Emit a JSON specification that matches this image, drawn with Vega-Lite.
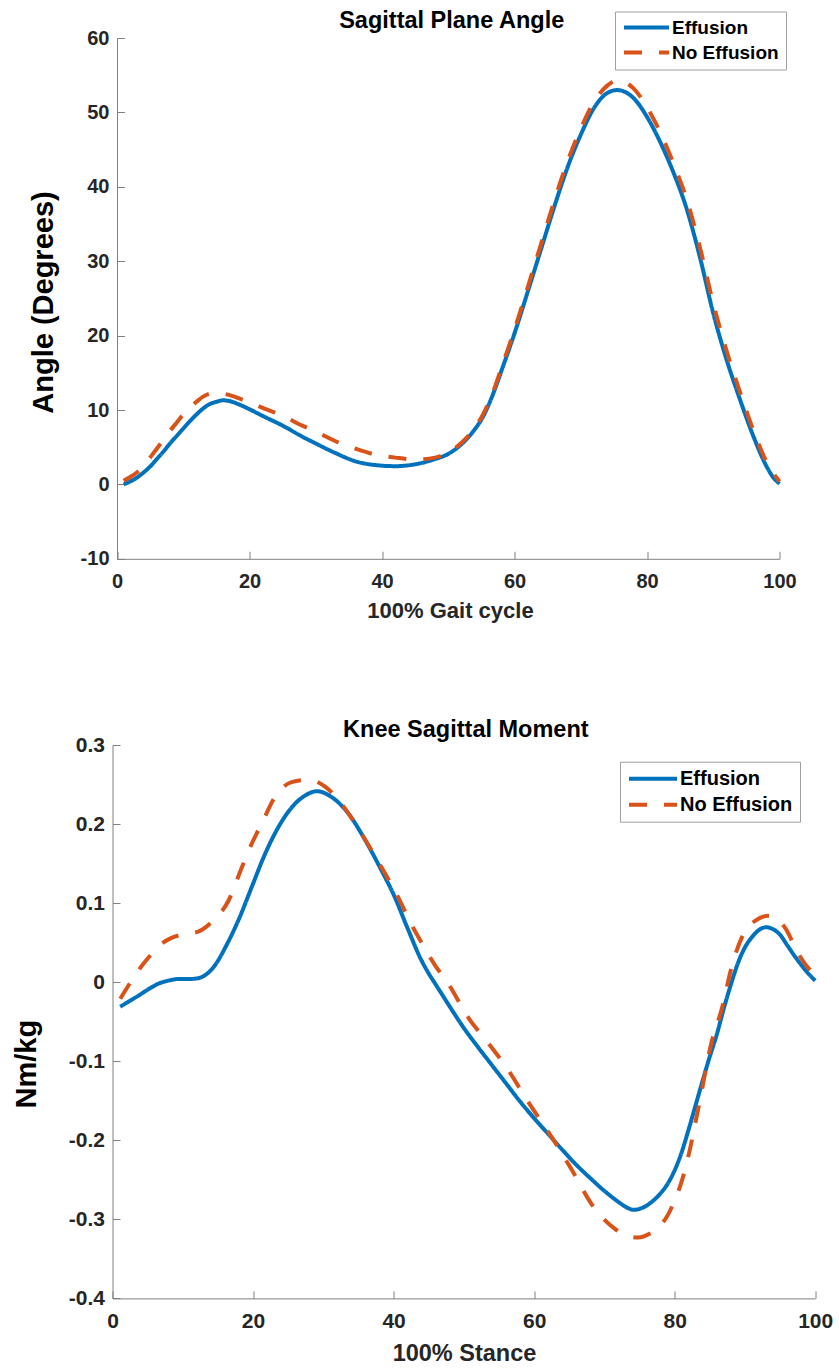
{
  "$schema": "https://vega.github.io/schema/vega-lite/v6.json",
  "background": "white",
  "padding": {"left": 11.5, "top": 9, "right": 5, "bottom": 2},
  "spacing": 95,
  "config": {
    "font": "Liberation Sans",
    "view": {"stroke": null},
    "axis": {
      "grid": false,
      "domainColor": "#808080",
      "tickColor": "#808080",
      "domainWidth": 1,
      "tickWidth": 1,
      "tickSize": -7.5,
      "labelFont": "Liberation Sans",
      "labelFontWeight": "bold",
      "labelColor": "#262626",
      "titleFont": "Liberation Sans",
      "titleFontWeight": "bold",
      "titleColor": "#262626",
      "labelFlush": false,
      "labelOverlap": false
    },
    "legend": {
      "labelFont": "Liberation Sans",
      "labelFontWeight": "bold",
      "labelColor": "black",
      "strokeColor": "#a0a0a0",
      "fillColor": "white",
      "symbolType": "stroke"
    }
  },
  "datasets": {
    "angle": [
      {"x": 1, "value": 0.0, "group": "Effusion"},
      {"x": 2, "value": 0.4, "group": "Effusion"},
      {"x": 3, "value": 0.9, "group": "Effusion"},
      {"x": 4, "value": 1.6, "group": "Effusion"},
      {"x": 5, "value": 2.4, "group": "Effusion"},
      {"x": 6, "value": 3.4, "group": "Effusion"},
      {"x": 7, "value": 4.4, "group": "Effusion"},
      {"x": 8, "value": 5.5, "group": "Effusion"},
      {"x": 9, "value": 6.5, "group": "Effusion"},
      {"x": 10, "value": 7.5, "group": "Effusion"},
      {"x": 11, "value": 8.5, "group": "Effusion"},
      {"x": 12, "value": 9.4, "group": "Effusion"},
      {"x": 13, "value": 10.2, "group": "Effusion"},
      {"x": 14, "value": 10.8, "group": "Effusion"},
      {"x": 15, "value": 11.1, "group": "Effusion"},
      {"x": 16, "value": 11.3, "group": "Effusion"},
      {"x": 17, "value": 11.2, "group": "Effusion"},
      {"x": 18, "value": 10.9, "group": "Effusion"},
      {"x": 20, "value": 10.1, "group": "Effusion"},
      {"x": 22, "value": 9.2, "group": "Effusion"},
      {"x": 25, "value": 7.9, "group": "Effusion"},
      {"x": 28, "value": 6.4, "group": "Effusion"},
      {"x": 30, "value": 5.5, "group": "Effusion"},
      {"x": 33, "value": 4.2, "group": "Effusion"},
      {"x": 36, "value": 3.1, "group": "Effusion"},
      {"x": 39, "value": 2.6, "group": "Effusion"},
      {"x": 42, "value": 2.45, "group": "Effusion"},
      {"x": 45, "value": 2.7, "group": "Effusion"},
      {"x": 48, "value": 3.4, "group": "Effusion"},
      {"x": 50, "value": 4.1, "group": "Effusion"},
      {"x": 52, "value": 5.4, "group": "Effusion"},
      {"x": 53, "value": 6.3, "group": "Effusion"},
      {"x": 54, "value": 7.4, "group": "Effusion"},
      {"x": 55, "value": 8.7, "group": "Effusion"},
      {"x": 56, "value": 10.5, "group": "Effusion"},
      {"x": 57, "value": 12.7, "group": "Effusion"},
      {"x": 58, "value": 15.2, "group": "Effusion"},
      {"x": 60, "value": 20.3, "group": "Effusion"},
      {"x": 62, "value": 25.9, "group": "Effusion"},
      {"x": 64, "value": 31.6, "group": "Effusion"},
      {"x": 66, "value": 37.3, "group": "Effusion"},
      {"x": 68, "value": 42.6, "group": "Effusion"},
      {"x": 70, "value": 47.0, "group": "Effusion"},
      {"x": 72, "value": 50.6, "group": "Effusion"},
      {"x": 74, "value": 52.6, "group": "Effusion"},
      {"x": 75.5, "value": 53.0, "group": "Effusion"},
      {"x": 77, "value": 52.6, "group": "Effusion"},
      {"x": 78, "value": 51.9, "group": "Effusion"},
      {"x": 80, "value": 49.4, "group": "Effusion"},
      {"x": 82, "value": 46.0, "group": "Effusion"},
      {"x": 84, "value": 41.9, "group": "Effusion"},
      {"x": 86, "value": 37.0, "group": "Effusion"},
      {"x": 88, "value": 30.5, "group": "Effusion"},
      {"x": 90, "value": 23.0, "group": "Effusion"},
      {"x": 92, "value": 16.8, "group": "Effusion"},
      {"x": 94, "value": 11.5, "group": "Effusion"},
      {"x": 96, "value": 6.6, "group": "Effusion"},
      {"x": 98, "value": 2.5, "group": "Effusion"},
      {"x": 99, "value": 1.0, "group": "Effusion"},
      {"x": 100, "value": 0.1, "group": "Effusion"},
      {"x": 1, "value": 0.5, "group": "No Effusion"},
      {"x": 2, "value": 1.0, "group": "No Effusion"},
      {"x": 3, "value": 1.6, "group": "No Effusion"},
      {"x": 4, "value": 2.5, "group": "No Effusion"},
      {"x": 5, "value": 3.6, "group": "No Effusion"},
      {"x": 6, "value": 4.8, "group": "No Effusion"},
      {"x": 7, "value": 6.0, "group": "No Effusion"},
      {"x": 8, "value": 7.2, "group": "No Effusion"},
      {"x": 9, "value": 8.3, "group": "No Effusion"},
      {"x": 10, "value": 9.4, "group": "No Effusion"},
      {"x": 11, "value": 10.3, "group": "No Effusion"},
      {"x": 12, "value": 11.1, "group": "No Effusion"},
      {"x": 13, "value": 11.8, "group": "No Effusion"},
      {"x": 14, "value": 12.2, "group": "No Effusion"},
      {"x": 15, "value": 12.3, "group": "No Effusion"},
      {"x": 16, "value": 12.2, "group": "No Effusion"},
      {"x": 17, "value": 12.0, "group": "No Effusion"},
      {"x": 18, "value": 11.7, "group": "No Effusion"},
      {"x": 20, "value": 11.0, "group": "No Effusion"},
      {"x": 22, "value": 10.3, "group": "No Effusion"},
      {"x": 25, "value": 9.2, "group": "No Effusion"},
      {"x": 28, "value": 7.9, "group": "No Effusion"},
      {"x": 30, "value": 7.1, "group": "No Effusion"},
      {"x": 33, "value": 5.8, "group": "No Effusion"},
      {"x": 36, "value": 4.8, "group": "No Effusion"},
      {"x": 39, "value": 4.0, "group": "No Effusion"},
      {"x": 42, "value": 3.6, "group": "No Effusion"},
      {"x": 45, "value": 3.35, "group": "No Effusion"},
      {"x": 48, "value": 3.6, "group": "No Effusion"},
      {"x": 50, "value": 4.3, "group": "No Effusion"},
      {"x": 52, "value": 5.6, "group": "No Effusion"},
      {"x": 54, "value": 7.6, "group": "No Effusion"},
      {"x": 55, "value": 9.0, "group": "No Effusion"},
      {"x": 56, "value": 10.8, "group": "No Effusion"},
      {"x": 57, "value": 13.0, "group": "No Effusion"},
      {"x": 58, "value": 15.6, "group": "No Effusion"},
      {"x": 60, "value": 20.8, "group": "No Effusion"},
      {"x": 62, "value": 26.5, "group": "No Effusion"},
      {"x": 64, "value": 32.3, "group": "No Effusion"},
      {"x": 66, "value": 38.1, "group": "No Effusion"},
      {"x": 68, "value": 43.4, "group": "No Effusion"},
      {"x": 70, "value": 47.8, "group": "No Effusion"},
      {"x": 72, "value": 51.4, "group": "No Effusion"},
      {"x": 74, "value": 53.6, "group": "No Effusion"},
      {"x": 75.5, "value": 54.3, "group": "No Effusion"},
      {"x": 77, "value": 53.9, "group": "No Effusion"},
      {"x": 78, "value": 53.2, "group": "No Effusion"},
      {"x": 80, "value": 50.7, "group": "No Effusion"},
      {"x": 82, "value": 47.3, "group": "No Effusion"},
      {"x": 84, "value": 43.1, "group": "No Effusion"},
      {"x": 86, "value": 38.3, "group": "No Effusion"},
      {"x": 88, "value": 31.8, "group": "No Effusion"},
      {"x": 90, "value": 24.3, "group": "No Effusion"},
      {"x": 92, "value": 18.0, "group": "No Effusion"},
      {"x": 94, "value": 12.5, "group": "No Effusion"},
      {"x": 96, "value": 7.4, "group": "No Effusion"},
      {"x": 98, "value": 3.1, "group": "No Effusion"},
      {"x": 100, "value": 0.4, "group": "No Effusion"}
    ],
    "moment": [
      {"x": 1.1, "value": -0.031, "group": "Effusion"},
      {"x": 2.4, "value": -0.024, "group": "Effusion"},
      {"x": 3.7, "value": -0.017, "group": "Effusion"},
      {"x": 5.1, "value": -0.009, "group": "Effusion"},
      {"x": 6.5, "value": -0.002, "group": "Effusion"},
      {"x": 8, "value": 0.002, "group": "Effusion"},
      {"x": 9.4, "value": 0.004, "group": "Effusion"},
      {"x": 11, "value": 0.004, "group": "Effusion"},
      {"x": 12.2, "value": 0.005, "group": "Effusion"},
      {"x": 13.2, "value": 0.009, "group": "Effusion"},
      {"x": 14.1, "value": 0.016, "group": "Effusion"},
      {"x": 15, "value": 0.027, "group": "Effusion"},
      {"x": 16, "value": 0.043, "group": "Effusion"},
      {"x": 17.9, "value": 0.078, "group": "Effusion"},
      {"x": 19.8, "value": 0.12, "group": "Effusion"},
      {"x": 21.7, "value": 0.162, "group": "Effusion"},
      {"x": 23.6, "value": 0.196, "group": "Effusion"},
      {"x": 25.5, "value": 0.221, "group": "Effusion"},
      {"x": 27.4, "value": 0.236, "group": "Effusion"},
      {"x": 29.1, "value": 0.2415, "group": "Effusion"},
      {"x": 31.2, "value": 0.234, "group": "Effusion"},
      {"x": 33.6, "value": 0.213, "group": "Effusion"},
      {"x": 36, "value": 0.179, "group": "Effusion"},
      {"x": 38.3, "value": 0.141, "group": "Effusion"},
      {"x": 40, "value": 0.111, "group": "Effusion"},
      {"x": 42, "value": 0.068, "group": "Effusion"},
      {"x": 44, "value": 0.027, "group": "Effusion"},
      {"x": 45, "value": 0.011, "group": "Effusion"},
      {"x": 46, "value": -0.003, "group": "Effusion"},
      {"x": 47, "value": -0.017, "group": "Effusion"},
      {"x": 48, "value": -0.031, "group": "Effusion"},
      {"x": 50, "value": -0.058, "group": "Effusion"},
      {"x": 52, "value": -0.082, "group": "Effusion"},
      {"x": 54, "value": -0.105, "group": "Effusion"},
      {"x": 56, "value": -0.128, "group": "Effusion"},
      {"x": 58, "value": -0.151, "group": "Effusion"},
      {"x": 60, "value": -0.172, "group": "Effusion"},
      {"x": 62, "value": -0.192, "group": "Effusion"},
      {"x": 64, "value": -0.212, "group": "Effusion"},
      {"x": 66, "value": -0.231, "group": "Effusion"},
      {"x": 68, "value": -0.248, "group": "Effusion"},
      {"x": 70, "value": -0.264, "group": "Effusion"},
      {"x": 72, "value": -0.278, "group": "Effusion"},
      {"x": 73, "value": -0.284, "group": "Effusion"},
      {"x": 74.2, "value": -0.288, "group": "Effusion"},
      {"x": 75.5, "value": -0.285, "group": "Effusion"},
      {"x": 77, "value": -0.276, "group": "Effusion"},
      {"x": 78, "value": -0.267, "group": "Effusion"},
      {"x": 79, "value": -0.255, "group": "Effusion"},
      {"x": 80, "value": -0.238, "group": "Effusion"},
      {"x": 81, "value": -0.215, "group": "Effusion"},
      {"x": 82, "value": -0.186, "group": "Effusion"},
      {"x": 83, "value": -0.155, "group": "Effusion"},
      {"x": 84, "value": -0.124, "group": "Effusion"},
      {"x": 85, "value": -0.094, "group": "Effusion"},
      {"x": 86, "value": -0.066, "group": "Effusion"},
      {"x": 87, "value": -0.033, "group": "Effusion"},
      {"x": 88, "value": -0.003, "group": "Effusion"},
      {"x": 89, "value": 0.024, "group": "Effusion"},
      {"x": 90, "value": 0.044, "group": "Effusion"},
      {"x": 91, "value": 0.057, "group": "Effusion"},
      {"x": 92, "value": 0.066, "group": "Effusion"},
      {"x": 93, "value": 0.0695, "group": "Effusion"},
      {"x": 94, "value": 0.067, "group": "Effusion"},
      {"x": 95, "value": 0.06, "group": "Effusion"},
      {"x": 96, "value": 0.047, "group": "Effusion"},
      {"x": 97, "value": 0.034, "group": "Effusion"},
      {"x": 98, "value": 0.022, "group": "Effusion"},
      {"x": 99, "value": 0.011, "group": "Effusion"},
      {"x": 100, "value": 0.002, "group": "Effusion"},
      {"x": 1.1, "value": -0.021, "group": "No Effusion"},
      {"x": 2.5, "value": -0.001, "group": "No Effusion"},
      {"x": 4.2, "value": 0.021, "group": "No Effusion"},
      {"x": 5.6, "value": 0.036, "group": "No Effusion"},
      {"x": 6.5, "value": 0.045, "group": "No Effusion"},
      {"x": 8.4, "value": 0.056, "group": "No Effusion"},
      {"x": 10.3, "value": 0.061, "group": "No Effusion"},
      {"x": 12.2, "value": 0.064, "group": "No Effusion"},
      {"x": 14.1, "value": 0.076, "group": "No Effusion"},
      {"x": 16.5, "value": 0.103, "group": "No Effusion"},
      {"x": 18.4, "value": 0.145, "group": "No Effusion"},
      {"x": 19.8, "value": 0.175, "group": "No Effusion"},
      {"x": 21.2, "value": 0.2, "group": "No Effusion"},
      {"x": 23.1, "value": 0.234, "group": "No Effusion"},
      {"x": 25.5, "value": 0.253, "group": "No Effusion"},
      {"x": 28, "value": 0.256, "group": "No Effusion"},
      {"x": 30.3, "value": 0.247, "group": "No Effusion"},
      {"x": 32.2, "value": 0.23, "group": "No Effusion"},
      {"x": 35, "value": 0.194, "group": "No Effusion"},
      {"x": 38.3, "value": 0.145, "group": "No Effusion"},
      {"x": 40.5, "value": 0.11, "group": "No Effusion"},
      {"x": 42.6, "value": 0.072, "group": "No Effusion"},
      {"x": 44.5, "value": 0.042, "group": "No Effusion"},
      {"x": 46, "value": 0.02, "group": "No Effusion"},
      {"x": 47.5, "value": 0.002, "group": "No Effusion"},
      {"x": 50.8, "value": -0.047, "group": "No Effusion"},
      {"x": 53.2, "value": -0.074, "group": "No Effusion"},
      {"x": 56, "value": -0.107, "group": "No Effusion"},
      {"x": 59.2, "value": -0.152, "group": "No Effusion"},
      {"x": 62.5, "value": -0.196, "group": "No Effusion"},
      {"x": 65.4, "value": -0.238, "group": "No Effusion"},
      {"x": 68.2, "value": -0.281, "group": "No Effusion"},
      {"x": 71.5, "value": -0.312, "group": "No Effusion"},
      {"x": 73, "value": -0.32, "group": "No Effusion"},
      {"x": 74.8, "value": -0.323, "group": "No Effusion"},
      {"x": 76.5, "value": -0.318, "group": "No Effusion"},
      {"x": 77.7, "value": -0.31, "group": "No Effusion"},
      {"x": 79, "value": -0.295, "group": "No Effusion"},
      {"x": 80, "value": -0.276, "group": "No Effusion"},
      {"x": 81, "value": -0.252, "group": "No Effusion"},
      {"x": 81.9, "value": -0.222, "group": "No Effusion"},
      {"x": 83.4, "value": -0.158, "group": "No Effusion"},
      {"x": 85.3, "value": -0.074, "group": "No Effusion"},
      {"x": 86.7, "value": -0.034, "group": "No Effusion"},
      {"x": 88.1, "value": 0.019, "group": "No Effusion"},
      {"x": 89.8, "value": 0.061, "group": "No Effusion"},
      {"x": 91.5, "value": 0.078, "group": "No Effusion"},
      {"x": 93.4, "value": 0.084, "group": "No Effusion"},
      {"x": 95.7, "value": 0.069, "group": "No Effusion"},
      {"x": 97.6, "value": 0.036, "group": "No Effusion"},
      {"x": 99, "value": 0.018, "group": "No Effusion"},
      {"x": 100, "value": 0.01, "group": "No Effusion"}
    ]
  },
  "vconcat": [
    {
      "width": 667,
      "height": 520.8,
      "title": {"text": "Sagittal Plane Angle", "fontSize": 23.5, "fontWeight": "bold", "color": "black", "frame": "group", "anchor": "middle", "baseline": "alphabetic", "offset": -40.5, "dx": 5.7},
      "data": {"name": "angle"},
      "mark": {"type": "line", "strokeWidth": 4, "interpolate": "monotone", "strokeCap": "butt"},
      "encoding": {
        "x": {
          "field": "x", "type": "quantitative",
          "scale": {"domain": [0, 100], "range": [4.5, 667], "nice": false, "zero": false},
          "axis": {"values": [0, 20, 40, 60, 80, 100], "labelFontSize": 20, "labelPadding": 20, "title": "100% Gait cycle", "titleFontSize": 22, "titleX": 337.5, "titleY": 58.4, "titleBaseline": "alphabetic", "titleAnchor": "middle", "titleAlign": "center"}
        },
        "y": {
          "field": "value", "type": "quantitative",
          "scale": {"domain": [-10, 60], "nice": false, "zero": false},
          "axis": {"values": [-10, 0, 10, 20, 30, 40, 50, 60], "offset": -4.5, "labelFontSize": 20, "labelPadding": 15.5, "labelExpr": "replace(datum.label, '\u2212', '-')", "title": "Angle (Degrees)", "titleFontSize": 29, "titleColor": "black", "titleX": -65, "titleY": 264, "titleAngle": -90, "titleBaseline": "alphabetic", "titleAlign": "center"}
        },
        "color": {
          "field": "group", "type": "nominal",
          "scale": {"domain": ["Effusion", "No Effusion"], "range": ["#0072BD", "#D95319"]},
          "legend": {"title": null, "orient": "none", "legendX": 502.5, "legendY": -26.5, "padding": 7, "symbolSize": 2025, "symbolStrokeWidth": 4, "labelFontSize": 19, "labelOffset": 1, "clipHeight": 18, "rowPadding": 6, "symbolType": "stroke"}
        },
        "strokeDash": {
          "field": "group", "type": "nominal",
          "scale": {"domain": ["Effusion", "No Effusion"], "range": [[1, 0], [18, 17]]},
          "legend": {"title": null, "orient": "none", "legendX": 502.5, "legendY": -26.5, "padding": 7, "symbolSize": 2025, "symbolStrokeWidth": 4, "labelFontSize": 19, "labelOffset": 1, "clipHeight": 18, "rowPadding": 6, "symbolType": "stroke"}
        }
      }
    },
    {
      "width": 702.7,
      "height": 553.4,
      "title": {"text": "Knee Sagittal Moment", "fontSize": 23.5, "fontWeight": "bold", "color": "black", "frame": "group", "anchor": "middle", "baseline": "alphabetic", "offset": -26.2, "dx": 2},
      "data": {"name": "moment"},
      "mark": {"type": "line", "strokeWidth": 4, "interpolate": "monotone", "strokeCap": "butt"},
      "encoding": {
        "x": {
          "field": "x", "type": "quantitative",
          "scale": {"domain": [0, 100], "nice": false, "zero": false},
          "axis": {"values": [0, 20, 40, 60, 80, 100], "labelFontSize": 21, "labelPadding": 20, "title": "100% Stance", "titleFontSize": 23.5, "titleX": 351.5, "titleY": 61.8, "titleBaseline": "alphabetic", "titleAnchor": "middle", "titleAlign": "center"}
        },
        "y": {
          "field": "value", "type": "quantitative",
          "scale": {"domain": [-0.4, 0.3], "nice": false, "zero": false},
          "axis": {"values": [-0.4, -0.3, -0.2, -0.1, 0, 0.1, 0.2, 0.3], "format": ".1~f", "labelFontSize": 21, "labelPadding": 15.5, "labelExpr": "replace(datum.label, '\u2212', '-')", "title": "Nm/kg", "titleFontSize": 29, "titleColor": "black", "titleX": -77.3, "titleY": 318.7, "titleAngle": -90, "titleBaseline": "alphabetic", "titleAlign": "center"}
        },
        "color": {
          "field": "group", "type": "nominal",
          "scale": {"domain": ["Effusion", "No Effusion"], "range": ["#0072BD", "#D95319"]},
          "legend": {"title": null, "orient": "none", "legendX": 507.5, "legendY": 16.7, "padding": 7, "symbolSize": 2304, "symbolStrokeWidth": 4, "labelFontSize": 20, "labelOffset": 1, "clipHeight": 20, "rowPadding": 6, "symbolType": "stroke"}
        },
        "strokeDash": {
          "field": "group", "type": "nominal",
          "scale": {"domain": ["Effusion", "No Effusion"], "range": [[1, 0], [18, 17]]},
          "legend": {"title": null, "orient": "none", "legendX": 507.5, "legendY": 16.7, "padding": 7, "symbolSize": 2304, "symbolStrokeWidth": 4, "labelFontSize": 20, "labelOffset": 1, "clipHeight": 20, "rowPadding": 6, "symbolType": "stroke"}
        }
      }
    }
  ],
  "resolve": {"scale": {"color": "independent", "strokeDash": "independent"}}
}
